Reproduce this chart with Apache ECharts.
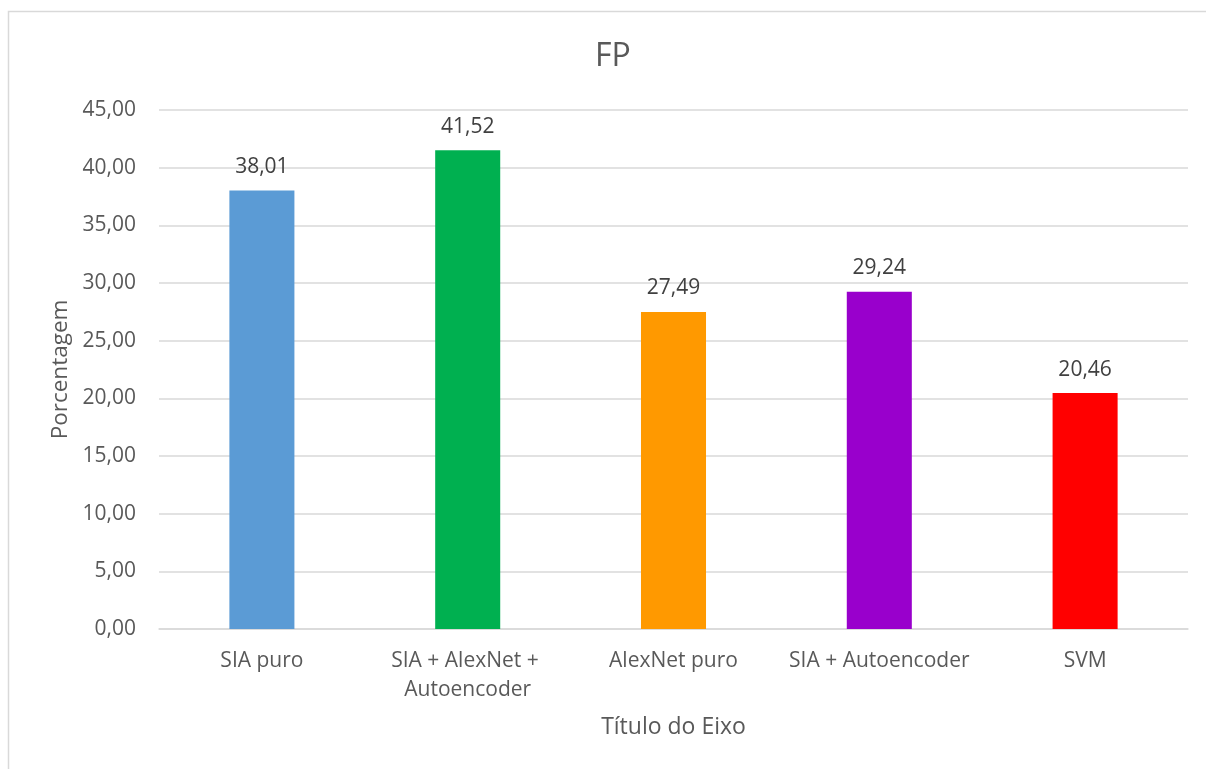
<!DOCTYPE html>
<html>
<head>
<meta charset="utf-8">
<script src="https://cdn.jsdelivr.net/npm/echarts@6/dist/echarts.min.js"></script>
<style>
  html, body { margin: 0; padding: 0; background: #fff; }
  #chart { width: 1206px; height: 769px; }
</style>
</head>
<body>
<div id="chart"></div>
<script>
// Falsos positivos (%) por método
const categories = ['SIA puro', 'SIA + AlexNet + Autoencoder', 'AlexNet puro', 'SIA + Autoencoder', 'SVM'];
const values = [38.01, 41.52, 27.49, 29.24, 20.46];
const barColors = ['#5B9BD5', '#00B050', '#FF9900', '#9900CC', '#FF0000'];

const FONT = '"Open Sans", sans-serif';
const fmt = v => v.toFixed(2).replace('.', ',');

const chart = echarts.init(document.getElementById('chart'), null, { renderer: 'canvas' });

chart.setOption({
  backgroundColor: '#ffffff',
  animation: false,
  textStyle: { fontFamily: FONT },
  title: {
    text: 'FP',
    left: 590,
    top: 36,
    textStyle: { fontFamily: FONT, fontSize: 32, fontWeight: 'normal', color: '#595959' }
  },
  graphic: [{
    type: 'rect',
    shape: { x: 8.5, y: 11.5, width: 1210, height: 780 },
    style: { fill: 'none', stroke: '#d9d9d9', lineWidth: 1.5 },
    silent: true
  }],
  grid: { left: 159, right: 18, top: 110, bottom: 140 },
  xAxis: {
    type: 'category',
    data: categories,
    name: 'Título do Eixo',
    nameLocation: 'middle',
    nameGap: 87,
    nameTextStyle: { fontFamily: FONT, fontSize: 23, color: '#595959' },
    axisLine: { show: true, lineStyle: { color: '#d9d9d9', width: 1.5 } },
    axisTick: { show: false },
    axisLabel: {
      interval: 0,
      margin: 18,
      fontFamily: FONT,
      fontSize: 21,
      lineHeight: 28.5,
      color: '#595959',
      width: 200,
      overflow: 'break'
    }
  },
  yAxis: {
    type: 'value',
    min: 0,
    max: 45,
    interval: 5,
    name: 'Porcentagem',
    nameLocation: 'middle',
    nameGap: 86,
    nameTextStyle: { fontFamily: FONT, fontSize: 22.5, color: '#595959' },
    axisLine: { show: false },
    axisTick: { show: false },
    splitLine: { lineStyle: { color: '#d9d9d9', width: 1.5 } },
    axisLabel: {
      margin: 23,
      fontFamily: FONT,
      fontSize: 21,
      color: '#595959',
      formatter: v => fmt(v)
    }
  },
  series: [{
    type: 'bar',
    barWidth: '31.6%',
    data: values.map((v, i) => ({ value: v, itemStyle: { color: barColors[i] } })),
    label: {
      show: true,
      position: 'top',
      distance: 13,
      fontFamily: FONT,
      fontSize: 21,
      color: '#404040',
      formatter: p => fmt(p.value)
    }
  }]
});
</script>
</body>
</html>
